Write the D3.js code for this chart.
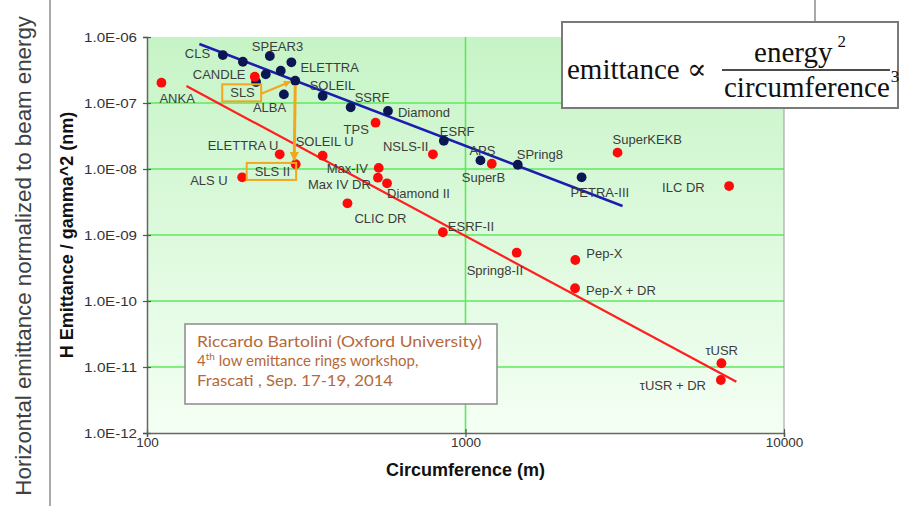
<!DOCTYPE html>
<html>
<head>
<meta charset="utf-8">
<style>
  body { margin: 0; background: #fff; }
  svg { display: block; font-family: 'Liberation Sans', Arial, sans-serif; }
  .tick text { font-size: 13.5px; fill: #333; }
  .tick line { stroke: #555; stroke-width: 1.2px; }
  .domain { stroke: #666; stroke-width: 1.5px; }
  .lbl { font-size: 13px; fill: #3c3c3c; }
  .cite { font-family: Lato, 'Open Sans', sans-serif; font-size: 15px; fill: #b5683a; }
  .formula { font-family: 'Liberation Serif', 'DejaVu Serif', serif; fill: #111; }
</style>
</head>
<body>
<svg width="901" height="506"></svg>
<script src="https://cdn.jsdelivr.net/npm/d3@7"></script>
<script>
// ring data: circumference (m) vs H emittance / gamma^2 (nm)
const blueNames = ["CLS", "", "SPEAR3", "ELETTRA", "", "", "SLS", "", "ALBA", "SOLEIL", "SSRF", "Diamond", "ESRF", "APS", "SPring8", "PETRA-III"];
const blueCirc = [173, 200, 243, 284, 236, 263, 292, 220, 269, 356, 436, 571, 855, 1114, 1459, 2315];
const blueEmit = [5.33e-7, 4.22e-7, 5.15e-7, 4.14e-7, 2.72e-7, 3.09e-7, 2.18e-7, 2.08e-7, 1.35e-7, 1.28e-7, 8.6e-8, 7.57e-8, 2.68e-8, 1.35e-8, 1.16e-8, 7.48e-9];

const redNames = ["ANKA", "CANDLE", "ELETTRA U", "SLS II", "ALS U", "SOLEIL U", "TPS", "NSLS-II", "SuperB", "Max-IV", "Max IV DR", "Diamond II", "CLIC DR", "ESRF-II", "SuperKEKB", "ILC DR", "Spring8-II", "Pep-X", "Pep-X + DR", "τUSR", "τUSR + DR"];
const redCirc = [111, 218, 261, 293, 199, 356, 522, 790, 1209, 534, 531, 567, 426, 849, 3002, 6723, 1448, 2212, 2208, 6361, 6334];
const redEmit = [2.03e-7, 2.50e-7, 1.67e-8, 1.18e-8, 7.48e-9, 1.59e-8, 5.03e-8, 1.67e-8, 1.20e-8, 1.04e-8, 7.38e-9, 6.07e-9, 3.02e-9, 1.10e-9, 1.77e-8, 5.52e-9, 5.40e-10, 4.18e-10, 1.56e-10, 1.14e-11, 6.35e-12];

// fitted trend lines (end points)
const blueFitCirc = [146, 3112];
const blueFitEmit = [7.83e-7, 2.75e-9];
const redFitCirc = [133, 7087];
const redFitEmit = [1.81e-7, 5.99e-12];

const xTicks = [100, 1000, 10000];
const yTicks = [1e-6, 1e-7, 1e-8, 1e-9, 1e-10, 1e-11, 1e-12];

// label placement (px offset of label left edge / middle from its dot)
const labelOffset = {
    "CLS": [-38, -2], "SPEAR3": [-18, -10], "ELETTRA": [9, 5], "SLS": [-65, 12],
    "ALBA": [-31, 13], "SOLEIL": [-13, -11], "SSRF": [4, -10], "Diamond": [10, 1],
    "ESRF": [-4, -9], "APS": [-11, -10], "SPring8": [-1, -10], "PETRA-III": [-11, 15],
    "ANKA": [-2, 16], "CANDLE": [-62, -2], "ELETTRA U": [-72, -9], "SLS II": [-41, 7],
    "ALS U": [-52, 3], "SOLEIL U": [-27, -14], "TPS": [-32, 7], "NSLS-II": [-50, -8],
    "SuperB": [-30, 13.5], "Max-IV": [-52, 0], "Max IV DR": [-70, 7], "Diamond II": [0, 10],
    "CLIC DR": [7, 15], "ESRF-II": [5, -6], "SuperKEKB": [-5, -13], "ILC DR": [-67, 1],
    "Spring8-II": [-50, 18], "Pep-X": [11, -7], "Pep-X + DR": [11, 2],
    "τUSR": [-16, -13], "τUSR + DR": [-81, 5]
};

let svg = d3.select("svg");
let margin = { top: 37, right: 117, bottom: 73, left: 147 };
let width = 901, height = 506;

let x = d3.scaleLog()
    .domain([100, 10000])
    .range([margin.left, width - margin.right]);

let y = d3.scaleLog()
    .domain([1e-12, 1e-6])
    .range([height - margin.bottom, margin.top]);

let blue = blueNames.map((n, i) => ({ name: n, c: blueCirc[i], e: blueEmit[i] }));
let red = redNames.map((n, i) => ({ name: n, c: redCirc[i], e: redEmit[i] }));

// frame lines of the slide picture
svg.append("line").attr("x1", 50).attr("x2", 50).attr("y1", 0).attr("y2", height)
    .style("stroke", "#8c8c8c").style("stroke-width", 1.5);
svg.append("line").attr("x1", 815).attr("x2", 815).attr("y1", 0).attr("y2", 24)
    .style("stroke", "#8c8c8c").style("stroke-width", 1.5);

// plot background gradient
let grad = svg.append("defs").append("linearGradient")
    .attr("id", "bg").attr("x1", 0).attr("x2", 0).attr("y1", 0).attr("y2", 1);
grad.append("stop").attr("offset", "0%").attr("stop-color", "#c6f4c6");
grad.append("stop").attr("offset", "100%").attr("stop-color", "#f4fff4");

svg.append("rect")
    .attr("x", x(100)).attr("y", y(1e-6))
    .attr("width", x(10000) - x(100)).attr("height", y(1e-12) - y(1e-6))
    .attr("fill", "url(#bg)");

// grid
svg.append("g").selectAll("line")
    .data(yTicks.slice(1, -1))
    .join("line")
    .attr("x1", x(100)).attr("x2", x(10000))
    .attr("y1", d => y(d)).attr("y2", d => y(d))
    .style("stroke", "#5ee85e").style("stroke-width", 1.6);
svg.append("line")
    .attr("x1", x(1000)).attr("x2", x(1000))
    .attr("y1", y(1e-6)).attr("y2", y(1e-12))
    .style("stroke", "#5ee85e").style("stroke-width", 1.6);

// right edge of plot
svg.append("line")
    .attr("x1", x(10000)).attr("x2", x(10000))
    .attr("y1", y(1e-6)).attr("y2", y(1e-12))
    .style("stroke", "#9a9a9a").style("stroke-width", 1);

// axes
let xAxis = svg.append("g")
    .attr("transform", `translate(0,${y(1e-12)})`)
    .call(d3.axisBottom(x).tickValues(xTicks).tickFormat(d3.format("d")).tickSize(4));
xAxis.selectAll(".tick line").attr("y1", -4).attr("y2", 4);
xAxis.selectAll(".tick text").attr("y", 4);

let yAxis = svg.append("g")
    .attr("transform", `translate(${x(100)},0)`)
    .call(d3.axisLeft(y).tickValues(yTicks)
        .tickFormat(d => "1.0E-" + String(-Math.round(Math.log10(d))).padStart(2, "0"))
        .tickSize(4));
yAxis.selectAll(".tick line").attr("x1", -4).attr("x2", 4);
yAxis.selectAll(".tick text").attr("x", -10)
    .attr("textLength", 53).attr("lengthAdjust", "spacingAndGlyphs");

// fit lines
let line = d3.line().x(d => x(d[0])).y(d => y(d[1]));
svg.append("path")
    .attr("d", line(blueFitCirc.map((c, i) => [c, blueFitEmit[i]])))
    .style("fill", "none").style("stroke", "#1c1cb0").style("stroke-width", 2.5);
svg.append("path")
    .attr("d", line(redFitCirc.map((c, i) => [c, redFitEmit[i]])))
    .style("fill", "none").style("stroke", "#ff1f1f").style("stroke-width", 2.2);

// dots
svg.append("g").selectAll("circle")
    .data(blue)
    .join("circle")
    .attr("cx", d => x(d.c)).attr("cy", d => y(d.e)).attr("r", 4.9)
    .attr("fill", "#0b1652");
svg.append("g").selectAll("circle")
    .data(red)
    .join("circle")
    .attr("cx", d => x(d.c)).attr("cy", d => y(d.e)).attr("r", 4.9)
    .attr("fill", "#ff0a0a");

// labels
let labelled = blue.concat(red).filter(d => d.name != "");
let labels = svg.append("g").selectAll("text")
    .data(labelled)
    .join("text")
    .attr("class", "lbl")
    .attr("x", d => x(d.c) + labelOffset[d.name][0])
    .attr("y", d => y(d.e) + labelOffset[d.name][1])
    .attr("dy", "0.36em")
    .text(d => d.name);

// SLS -> SLS II annotation
let orange = "#f2a71e";
let sls = blue.find(d => d.name == "SLS");
let sls2 = red.find(d => d.name == "SLS II");
let boxes = {};
labels.filter(d => d.name == "SLS" || d.name == "SLS II").each(function (d) {
    let b = this.getBBox();
    boxes[d.name] = { x: b.x - 8, y: b.y - 1, w: b.width + 14, h: b.height + 2 };
});
Object.values(boxes).forEach(b => {
    svg.append("rect").attr("x", b.x).attr("y", b.y).attr("width", b.w).attr("height", b.h)
        .style("fill", "none").style("stroke", orange).style("stroke-width", 2);
});

let defs = svg.select("defs");
defs.append("marker").attr("id", "arr").attr("viewBox", "0 0 10 10")
    .attr("refX", 9).attr("refY", 5).attr("markerWidth", 3.2).attr("markerHeight", 3.2)
    .attr("orient", "auto")
    .append("path").attr("d", "M0,0L10,5L0,10z").attr("fill", orange);

let bs = boxes["SLS"];
svg.append("line")
    .attr("x1", bs.x + bs.w).attr("y1", bs.y + bs.h / 2 + 1)
    .attr("x2", x(sls.c) - 5).attr("y2", y(sls.e) + 1)
    .style("stroke", orange).style("stroke-width", 2.2).attr("marker-end", "url(#arr)");
svg.append("line")
    .attr("x1", x(sls.c)).attr("y1", y(sls.e) + 5)
    .attr("x2", x(sls.c) - 1).attr("y2", y(sls2.e) - 4)
    .style("stroke", orange).style("stroke-width", 3).attr("marker-end", "url(#arr)");

// axis titles
svg.append("text")
    .attr("transform", `translate(73,${(y(1e-6) + y(1e-12)) / 2}) rotate(-90)`)
    .attr("text-anchor", "middle")
    .style("font-size", "18px").style("font-weight", "bold").style("fill", "#111")
    .text("H Emittance / gamma^2 (nm)");

svg.append("text")
    .attr("x", x(1000)).attr("y", 476)
    .attr("text-anchor", "middle")
    .style("font-size", "18px").style("font-weight", "bold").style("fill", "#111")
    .text("Circumference (m)");

svg.append("text")
    .attr("transform", "translate(31,16) rotate(-90)")
    .attr("text-anchor", "end")
    .style("font-size", "22.3px").style("fill", "#404040")
    .text("Horizontal emittance normalized to beam energy");

// citation box
let cite = svg.append("g");
cite.append("rect").attr("x", 185).attr("y", 324).attr("width", 312).attr("height", 80)
    .style("fill", "#fff").style("stroke", "#8a8a8a").style("stroke-width", 1.5);
cite.append("text").attr("class", "cite").attr("x", 197).attr("y", 347)
    .attr("textLength", 285).attr("lengthAdjust", "spacingAndGlyphs")
    .text("Riccardo Bartolini (Oxford University)");
let l2 = cite.append("text").attr("class", "cite").attr("x", 197).attr("y", 366);
l2.append("tspan").text("4");
l2.append("tspan").attr("dy", -6).style("font-size", "10px").text("th");
l2.append("tspan").attr("dy", 6).text(" low emittance rings workshop,");
cite.append("text").attr("class", "cite").attr("x", 197).attr("y", 386)
    .attr("textLength", 196).attr("lengthAdjust", "spacingAndGlyphs")
    .text("Frascati , Sep. 17-19, 2014");

// formula box
let f = svg.append("g");
f.append("rect").attr("x", 562).attr("y", 22).attr("width", 336).attr("height", 86)
    .style("fill", "#fff").style("stroke", "#7a7a7a").style("stroke-width", 2);
f.append("text").attr("class", "formula").attr("x", 567).attr("y", 79)
    .style("font-size", "29px").text("emittance \u221D");
f.append("line").attr("x1", 722).attr("x2", 890).attr("y1", 70).attr("y2", 70)
    .style("stroke", "#111").style("stroke-width", 1.5);
let num = f.append("text").attr("class", "formula").attr("x", 800).attr("y", 62)
    .attr("text-anchor", "middle").style("font-size", "29px");
num.append("tspan").text("energy");
num.append("tspan").attr("dx", 5).attr("dy", -15).style("font-size", "17px").text("2");
let den = f.append("text").attr("class", "formula").attr("x", 724).attr("y", 97)
    .style("font-size", "29px");
den.append("tspan").text("circumference");
den.append("tspan").attr("dx", 1).attr("dy", -15).style("font-size", "17px").text("3");
</script>
</body>
</html>
